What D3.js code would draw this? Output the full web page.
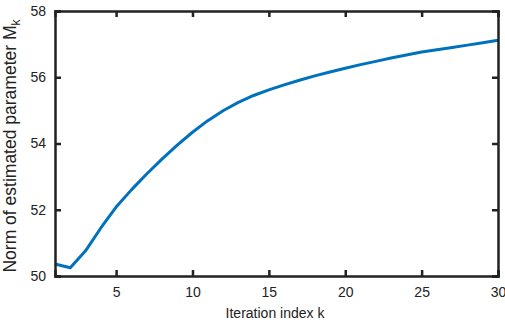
<!DOCTYPE html>
<html>
<head>
<meta charset="utf-8">
<script src="https://cdn.jsdelivr.net/npm/d3@7"></script>
<style>
  body { margin: 0; background: #fff; }
  text { font-family: "Liberation Sans Narrow", "Liberation Sans", Arial, sans-serif; }
</style>
</head>
<body>
<div id="chart"></div>
<script>
// iteration index k and norm of estimated parameter M_k
const iterations = d3.range(1, 31);
const normValues = [
  50.36, 50.25, 50.76, 51.45, 52.08, 52.60, 53.08, 53.53, 53.95, 54.34,
  54.69, 54.99, 55.24, 55.45, 55.62, 55.77, 55.91, 56.04, 56.16, 56.27,
  56.38, 56.48, 56.58, 56.67, 56.76, 56.83, 56.90, 56.97, 57.04, 57.12
];
const xTicks = [5, 10, 15, 20, 25, 30];
const yTicks = [50, 52, 54, 56, 58];

const W = 505, H = 324;
const margin = { top: 11, right: 7, bottom: 48, left: 55 };
const width = W - margin.left - margin.right;
const height = H - margin.top - margin.bottom;

const svg = d3.select("#chart").append("svg")
  .attr("width", W)
  .attr("height", H);

const g = svg.append("g")
  .attr("transform", `translate(${margin.left},${margin.top})`);

const x = d3.scaleLinear().domain([1, 30]).range([0, width]);
const y = d3.scaleLinear().domain([50, 58]).range([height, 0]);

// curve
const line = d3.line()
  .x((d, i) => x(iterations[i]))
  .y(d => y(d));

g.append("path")
  .datum(normValues)
  .attr("fill", "none")
  .attr("stroke", "#0072BD")
  .attr("stroke-width", 3)
  .attr("stroke-linejoin", "round")
  .attr("d", line);

// axes, matlab style box with inward ticks
const tickLen = 6;
const fmt = d3.format("d");

const xAxis = g.append("g")
  .attr("transform", `translate(0,${height})`)
  .call(d3.axisBottom(x).tickValues(xTicks).tickSize(-tickLen).tickPadding(tickLen + 5).tickFormat(fmt));
const xAxisTop = g.append("g")
  .call(d3.axisTop(x).tickValues(xTicks).tickSize(-tickLen).tickFormat(""));
const yAxis = g.append("g")
  .call(d3.axisLeft(y).tickValues(yTicks).tickSize(-tickLen).tickPadding(tickLen + 3).tickFormat(fmt));
const yAxisRight = g.append("g")
  .attr("transform", `translate(${width},0)`)
  .call(d3.axisRight(y).tickValues(yTicks).tickSize(-tickLen).tickFormat(""));

[xAxis, xAxisTop, yAxis, yAxisRight].forEach(a => {
  a.select(".domain").attr("stroke", "#222").attr("stroke-width", 2.5);
  a.selectAll(".tick line").attr("stroke", "#222").attr("stroke-width", 2.5);
  a.selectAll(".tick text")
    .attr("fill", "#222")
    .attr("font-size", "14px");
});

// axis labels
svg.append("text")
  .attr("x", 275)
  .attr("y", 318)
  .attr("text-anchor", "middle")
  .attr("font-size", "14px")
  .attr("fill", "#222")
  .text("Iteration index k");

const yLab = svg.append("text")
  .attr("transform", `translate(16,146) rotate(-90)`)
  .attr("text-anchor", "middle")
  .attr("font-size", "17.5px")
  .attr("fill", "#222");
yLab.append("tspan").text("Norm of estimated parameter M");
yLab.append("tspan").attr("dy", 4).attr("font-size", "12px").text("k");
</script>
</body>
</html>
